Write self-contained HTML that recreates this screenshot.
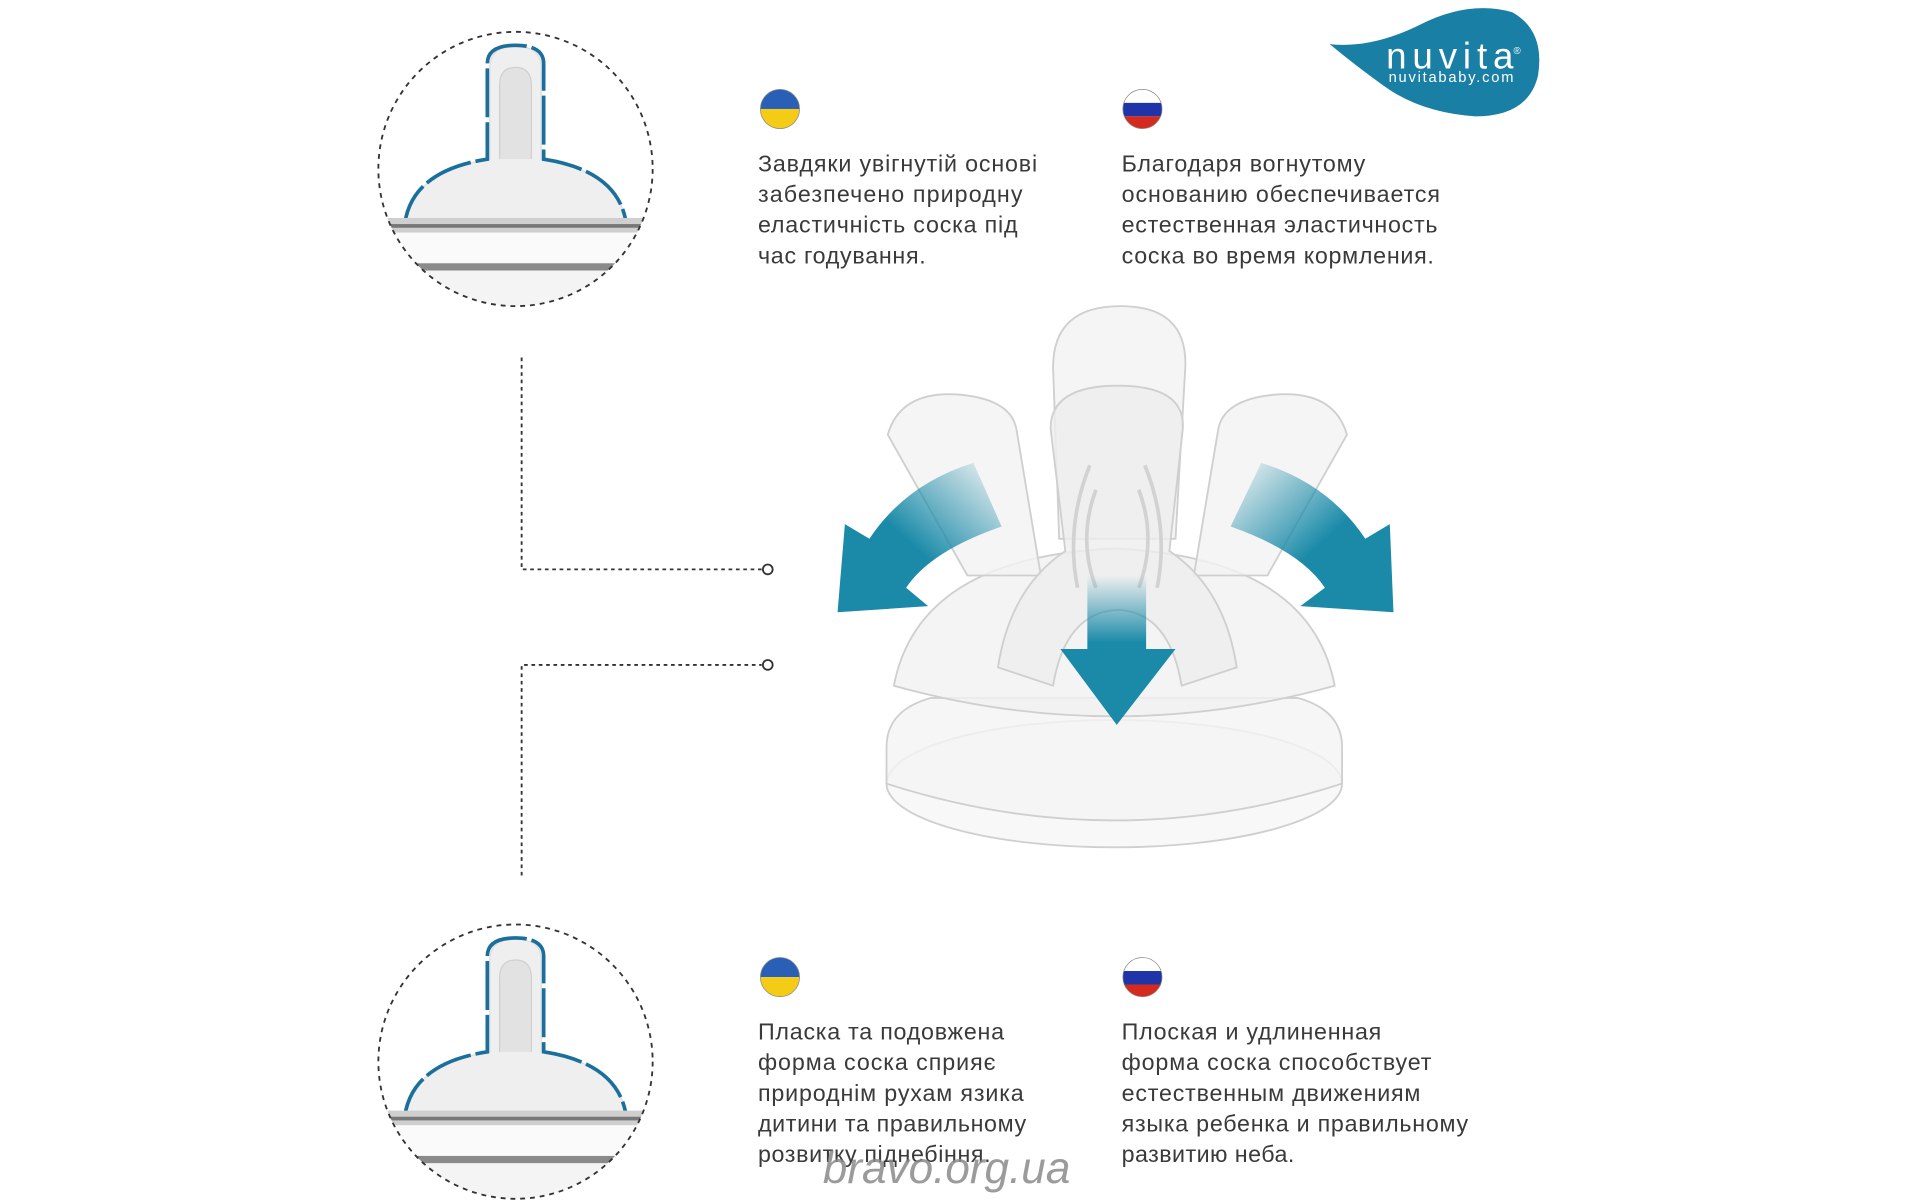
<!DOCTYPE html>
<html><head><meta charset="utf-8"><style>
html,body{margin:0;padding:0;background:#fff;}
svg{display:block}
text{font-family:"Liberation Sans",sans-serif;}
</style></head><body>
<svg width="1920" height="1200" viewBox="0 0 1568 980" xmlns="http://www.w3.org/2000/svg">
<defs>
<linearGradient id="al" x1="0" y1="1" x2="1" y2="0"><stop offset="0.45" stop-color="#1a8aa8"/><stop offset="1" stop-color="#1a8aa8" stop-opacity="0"/></linearGradient>
<linearGradient id="ar" x1="1" y1="1" x2="0" y2="0"><stop offset="0.45" stop-color="#1a8aa8"/><stop offset="1" stop-color="#1a8aa8" stop-opacity="0"/></linearGradient>
<linearGradient id="ad" x1="0" y1="1" x2="0" y2="0"><stop offset="0.55" stop-color="#1a8aa8"/><stop offset="1" stop-color="#1a8aa8" stop-opacity="0"/></linearGradient>
<linearGradient id="gl" x1="0" y1="0" x2="0" y2="1"><stop offset="0" stop-color="#f3f3f3"/><stop offset="1" stop-color="#e6e6e6"/></linearGradient>
<clipPath id="c1"><circle cx="421" cy="138" r="112"/></clipPath>
<clipPath id="c2"><circle cx="421" cy="867" r="112"/></clipPath>
<g id="mini">
 <path d="M330,185 Q335,140 400,130 L400,55 Q400,38 421,38 Q442,38 442,55 L442,130 Q507,140 512,185 Z" fill="#efefef" stroke="#ddd"/>
 <path d="M408,130 L408,70 Q408,55 421,55 Q434,55 434,70 L434,130" fill="#e2e2e2" stroke="#d0d0d0"/>
 <path d="M330,188 Q333,140 398,130 L398,52 Q398,37 421,37 Q444,37 444,52 L444,130 Q509,140 512,188" fill="none" stroke="#1b6f9c" stroke-width="3" stroke-dasharray="40 4"/>
 <rect x="310" y="178" width="222" height="12" fill="#cfcfcf"/>
 <rect x="310" y="183" width="222" height="3" fill="#777"/>
 <rect x="310" y="190" width="222" height="25" fill="#fafafa"/>
 <rect x="310" y="215" width="222" height="6" fill="#8a8a8a"/>
 <rect x="310" y="221" width="222" height="40" fill="#f4f4f4"/>
</g>
</defs>

<g clip-path="url(#c1)"><use href="#mini"/></g>
<circle cx="421" cy="138" r="112" fill="none" stroke="#333" stroke-width="1.5" stroke-dasharray="4 4"/>
<g clip-path="url(#c2)"><use href="#mini" transform="translate(0,729)"/></g>
<circle cx="421" cy="867" r="112" fill="none" stroke="#333" stroke-width="1.5" stroke-dasharray="4 4"/>

<path d="M426,292 V465 H622" fill="none" stroke="#333" stroke-width="1.5" stroke-dasharray="3 3"/>
<circle cx="627" cy="465" r="4" fill="#fff" stroke="#333" stroke-width="1.5"/>
<path d="M426,715 V543 H622" fill="none" stroke="#333" stroke-width="1.5" stroke-dasharray="3 3"/>
<circle cx="627" cy="543" r="4" fill="#fff" stroke="#333" stroke-width="1.5"/>

<path d="M1086,36 Q1120,40 1160,20 Q1200,0 1235,10 Q1262,25 1256,62 Q1248,95 1205,95 Q1160,92 1130,70 Q1105,52 1086,36 Z" fill="#1a7fa5"/>
<text x="1132" y="56" font-size="30" fill="#fff" textLength="104">nuvita</text>
<text x="1236" y="44" font-size="8" fill="#fff">®</text>
<text x="1134" y="67" font-size="12" fill="#fff" textLength="102">nuvitababy.com</text>

<g>
<clipPath id="f1"><circle cx="637" cy="89" r="16"/></clipPath>
<g clip-path="url(#f1)"><rect x="620" y="72" width="34" height="17" fill="#2a5fb8"/><rect x="620" y="89" width="34" height="17" fill="#f5cc15"/></g>
<circle cx="637" cy="89" r="16" fill="none" stroke="#888" stroke-width="0.6"/>
<clipPath id="f2"><circle cx="933" cy="89" r="16"/></clipPath>
<g clip-path="url(#f2)"><rect x="916" y="72" width="34" height="12" fill="#fff"/><rect x="916" y="84" width="34" height="11" fill="#1e34a8"/><rect x="916" y="95" width="34" height="12" fill="#d52b1e"/></g>
<circle cx="933" cy="89" r="16" fill="none" stroke="#888" stroke-width="0.6"/>
<clipPath id="f3"><circle cx="637" cy="798" r="16"/></clipPath>
<g clip-path="url(#f3)"><rect x="620" y="781" width="34" height="17" fill="#2a5fb8"/><rect x="620" y="798" width="34" height="17" fill="#f5cc15"/></g>
<circle cx="637" cy="798" r="16" fill="none" stroke="#888" stroke-width="0.6"/>
<clipPath id="f4"><circle cx="933" cy="798" r="16"/></clipPath>
<g clip-path="url(#f4)"><rect x="916" y="781" width="34" height="12" fill="#fff"/><rect x="916" y="793" width="34" height="11" fill="#1e34a8"/><rect x="916" y="804" width="34" height="12" fill="#d52b1e"/></g>
<circle cx="933" cy="798" r="16" fill="none" stroke="#888" stroke-width="0.6"/>
</g>

<g font-size="19" fill="#3a3a3a">
<text x="619" y="140" textLength="228">Завдяки увігнутій основі</text>
<text x="619" y="165" textLength="216">забезпечено природну</text>
<text x="619" y="190" textLength="212">еластичність соска під</text>
<text x="619" y="215" textLength="137">час годування.</text>
<text x="916" y="140" textLength="199">Благодаря вогнутому</text>
<text x="916" y="165" textLength="260">основанию обеспечивается</text>
<text x="916" y="190" textLength="258">естественная эластичность</text>
<text x="916" y="215" textLength="255">соска во время кормления.</text>
<text x="619" y="849" textLength="201">Пласка та подовжена</text>
<text x="619" y="874" textLength="194">форма соска сприяє</text>
<text x="619" y="899" textLength="217">природнім рухам язика</text>
<text x="619" y="924" textLength="219">дитини та правильному</text>
<text x="619" y="949" textLength="190">розвитку піднебіння.</text>
<text x="916" y="849" textLength="212">Плоская и удлиненная</text>
<text x="916" y="874" textLength="253">форма соска способствует</text>
<text x="916" y="899" textLength="244">естественным движениям</text>
<text x="916" y="924" textLength="283">языка ребенка и правильному</text>
<text x="916" y="949" textLength="141">развитию неба.</text>
</g>

<g stroke="#cfcfcf" stroke-width="1.5" fill="url(#gl)" fill-opacity="0.8">
 <ellipse cx="910" cy="640" rx="186" ry="52" fill="#f6f6f6"/>
 <path d="M724,610 Q724,580 760,570 L1060,570 Q1096,580 1096,610 L1096,640 Q910,700 724,640 Z" fill="#f4f4f4"/>
 <path d="M730,560 Q750,455 910,448 Q1070,455 1090,560 Q910,610 730,560 Z" fill="#f1f1f1"/>
 <path d="M860,300 Q860,250 915,250 Q970,250 968,300 L960,440 L865,440 Z" fill="#f3f3f3"/>
 <path d="M725,355 Q735,320 780,322 Q825,325 830,350 L850,470 L790,470 Z" fill="#f2f2f2"/>
 <path d="M1100,355 Q1090,320 1045,322 Q1000,325 995,350 L975,470 L1035,470 Z" fill="#f2f2f2"/>
 <path d="M858,350 Q858,315 913,315 Q968,315 966,350 L955,450 Q1000,480 1010,545 L965,560 Q955,500 913,498 Q870,500 860,560 L815,545 Q825,480 870,450 Z" fill="#eeeeee"/>
</g>
<g fill="none" stroke="#d2d2d2" stroke-width="3">
 <path d="M895,400 Q880,440 895,480"/><path d="M930,400 Q945,440 930,480"/>
 <path d="M890,380 Q870,430 880,480"/><path d="M935,380 Q955,430 945,480"/>
</g>
<path d="M795,378 Q740,395 710,440 L690,428 L684,500 L758,495 L740,480 Q760,450 818,430 Z" fill="url(#al)"/>
<path d="M1030,378 Q1085,395 1115,440 L1135,428 L1138,500 L1062,495 L1082,480 Q1062,450 1005,430 Z" fill="url(#ar)"/>
<path d="M888,470 L888,530 L866,530 L912,592 L960,530 L936,530 L936,470 Z" fill="url(#ad)"/>

<text x="672" y="966" font-size="36" font-style="italic" fill="#8a8a8a" fill-opacity="0.85">bravo.org.ua</text>
</svg>
</body></html>
